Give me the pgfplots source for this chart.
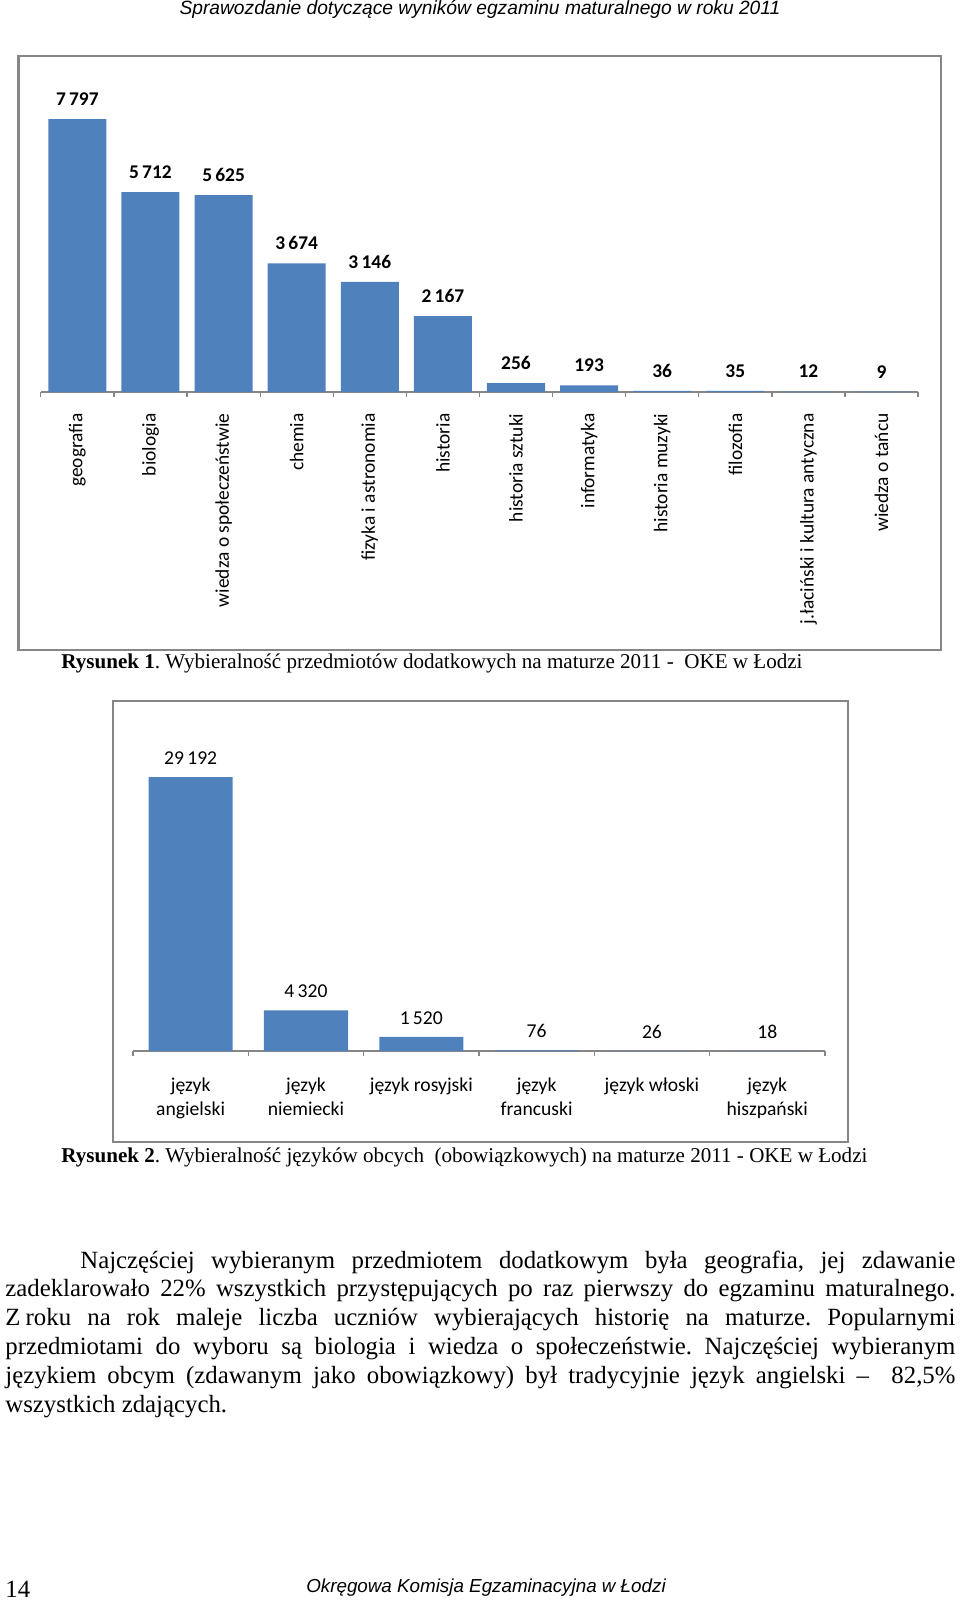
\documentclass[border=0pt]{standalone}
\usepackage{fontspec}
\setmainfont{Liberation Serif}
\newfontfamily\calibri{Carlito}
\newfontfamily\headfont{Liberation Sans}
\usepackage{pgfplots}
\pgfplotsset{compat=1.18}
\definecolor{barblue}{HTML}{4F81BD}
\definecolor{framegray}{HTML}{868686}

\pgfplotsset{
  excelbars/.style={
    ybar, clip=false, scale only axis,
    axis x line*=bottom, axis y line=none,
    enlarge x limits=false, ymin=0,
    major tick length=0pt, minor tick length=2.4pt,
    tick align=outside,
    axis line style={draw=framegray, line width=0.6pt},
    every minor tick/.append style={draw=framegray, line width=0.6pt},
    nodes near coords={\pgfmathprintnumber[fixed,precision=0,1000 sep={\,},assume math mode=true]{\pgfplotspointmeta}},
  }
}

\begin{document}
\frenchspacing
\begin{tikzpicture}
% 1 jednostka = 0.484pt, os y w dol
\begin{scope}[x=0.484pt,y=-0.484pt]
\useasboundingbox (0,0) rectangle (960,1601);

% naglowek strony
\node[inner sep=0, font=\headfont\itshape\fontsize{9.3}{11}\selectfont] at (480,9)
  {Sprawozdanie dotyczące wyników egzaminu maturalnego w roku 2011};

\draw[framegray, line width=1pt] (18.5,56) rectangle (941,650);
\node[anchor=base west, inner sep=0, font=\fontsize{10.2}{12}\selectfont] at (61,668)
  {\textbf{Rysunek 1}. Wybieralność przedmiotów dodatkowych na maturze 2011 -\ \ OKE w Łodzi};

\draw[framegray, line width=1pt] (113,701) rectangle (848,1142);
\node[anchor=base west, inner sep=0, font=\fontsize{10.2}{12}\selectfont] at (61,1162)
  {\textbf{Rysunek 2}. Wybieralność języków obcych\ \ (obowiązkowych) na maturze 2011 - OKE w Łodzi};

% tekst
\node[anchor=base west, inner sep=0, text width=459.8pt, align=justify,
      font=\fontsize{12}{13.94}\selectfont] at (5,1268)
  {\hspace*{36.3pt}Najczęściej wybieranym przedmiotem dodatkowym była geografia, jej zdawanie\linebreak
   zadeklarowało 22\% wszystkich przystępujących po raz pierwszy do egzaminu maturalnego.\linebreak
   Z\kern2.5pt roku na rok maleje liczba uczniów wybierających historię na maturze. Popularnymi\linebreak
   przedmiotami do wyboru są biologia i wiedza o społeczeństwie. Najczęściej wybieranym\linebreak
   językiem obcym (zdawanym jako obowiązkowy) był tradycyjnie język angielski --\ \ 82,5\%\linebreak
   wszystkich zdających.};

% stopka
\node[anchor=west, inner sep=0, font=\fontsize{12}{14}\selectfont] at (5,1589) {14};
\node[inner sep=0, font=\headfont\itshape\fontsize{9.1}{11}\selectfont] at (486,1588)
  {Okręgowa Komisja Egzaminacyjna w Łodzi};
\end{scope}

% wykres 1
\begin{axis}[excelbars,
    at={(19.75pt,-189.73pt)}, anchor=south west,
    width=424.6pt, height=152.5pt,
    xmin=-0.5, xmax=11.5, ymax=9000,
    bar width=28.1pt,
    xtick={0,...,11},
    minor xtick={-0.5,0.5,...,11.5},
    xticklabels={geografia, biologia, wiedza o społeczeństwie, chemia,
      fizyka i astronomia, historia, historia sztuki, informatyka,
      historia muzyki, filozofia, j.łaciński i kultura antyczna, wiedza o tańcu},
    xticklabel style={yshift=-6.9pt, rotate=90, anchor=east,
      font=\calibri\fontsize{9.4}{11}\selectfont},
    every node near coord/.append style={anchor=center, yshift=9.7pt,
      font=\calibri\bfseries\fontsize{9.4}{11}\selectfont},
  ]
  \addplot[fill=barblue, draw=none] coordinates {
    (0,7797) (1,5712) (2,5625) (3,3674) (4,3146) (5,2167)
    (6,256) (7,193) (8,36) (9,35) (10,12) (11,9)
  };
\end{axis}

% wykres 2
\begin{axis}[excelbars,
    at={(64.37pt,-508.68pt)}, anchor=south west,
    width=334.9pt, height=159pt,
    xmin=-0.5, xmax=5.5, ymax=35000,
    bar width=40.7pt,
    xtick={0,...,5},
    minor xtick={-0.5,0.5,...,5.5},
    xticklabels={{język\\angielski},{język\\niemiecki},{język rosyjski},
      {język\\francuski},{język włoski},{język\\hiszpański}},
    xticklabel style={align=center, anchor=north, yshift=-9.3pt,
      font=\calibri\fontsize{9.5}{11.6}\selectfont},
    every node near coord/.append style={anchor=center, yshift=9.2pt,
      font=\calibri\fontsize{9.5}{11}\selectfont},
  ]
  \addplot[fill=barblue, draw=none] coordinates {
    (0,29192) (1,4320) (2,1520) (3,76) (4,26) (5,18)
  };
\end{axis}
\end{tikzpicture}
\end{document}
